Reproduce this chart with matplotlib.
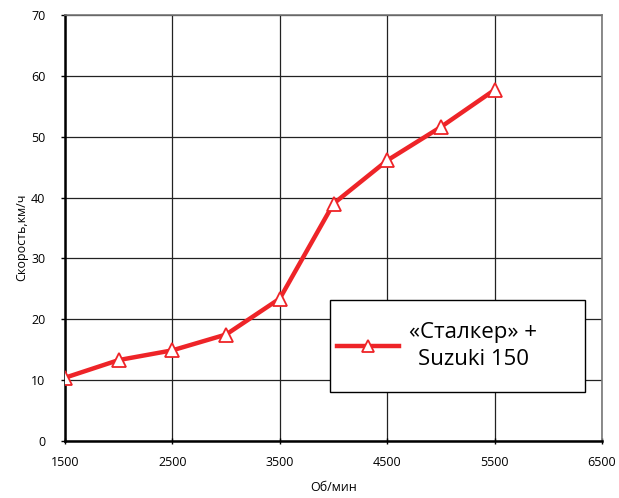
import matplotlib.pyplot as plt
from matplotlib.patches import Rectangle

# обороты и скорость
rpm = [1500, 2000, 2500, 3000, 3500, 4000, 4500, 5000, 5500]
speed = [10.4, 13.3, 14.9, 17.5, 23.4, 39.0, 46.1, 51.6, 57.7]

xticks = [1500, 2500, 3500, 4500, 5500, 6500]
yticks = [0, 10, 20, 30, 40, 50, 60, 70]

plt.rcParams['font.family'] = ['Open Sans', 'DejaVu Sans']

fig = plt.figure(figsize=(6.19, 4.98), dpi=100)
ax = fig.add_axes([65/619, 57/498, 537/619, 426/498])

ax.plot(rpm, speed, color='#ee2428', lw=3.2, marker='^', ms=10,
        mfc='white', mec='#ee2428', mew=1.3, label='«Сталкер» +\nSuzuki 150', zorder=3)

ax.set_xlim(1500, 6500)
ax.set_ylim(0, 70)
ax.set_xticks(xticks)
ax.set_yticks(yticks)
ax.grid(True, color='#222222', lw=0.9)
ax.set_axisbelow(True)

for s in ['top', 'right']:
    ax.spines[s].set_color('#777777')
    ax.spines[s].set_linewidth(1.2)
for s in ['left', 'bottom']:
    ax.spines[s].set_color('black')
    ax.spines[s].set_linewidth(1.8)

ax.tick_params(axis='both', labelsize=9, width=1, color='black')
ax.tick_params(axis='x', direction='inout', length=4, pad=8.5)
ax.tick_params(axis='y', direction='out', length=3, pad=11)

ax.set_xlabel('Об/мин', fontsize=9, labelpad=9)
ax.set_ylabel('Скорость,км/ч', fontsize=9)
ax.yaxis.set_label_coords(-0.069, 0.479)

# рамка легенды
box = Rectangle((0.4935, 0.115), 0.4745, 0.216, transform=ax.transAxes,
                facecolor='white', edgecolor='black', lw=1.0, zorder=4)
ax.add_patch(box)

leg = ax.legend(loc='center left', bbox_to_anchor=(0.5065, 0.223),
                fontsize=16, handlelength=2.8, handletextpad=0.45,
                frameon=False, borderpad=0, borderaxespad=0, markerscale=0.9)
leg.set_zorder(5)
for t in leg.get_texts():
    t.set_multialignment('center')
    t.set_linespacing(1.35)

fig.savefig('out.png', dpi=100)
